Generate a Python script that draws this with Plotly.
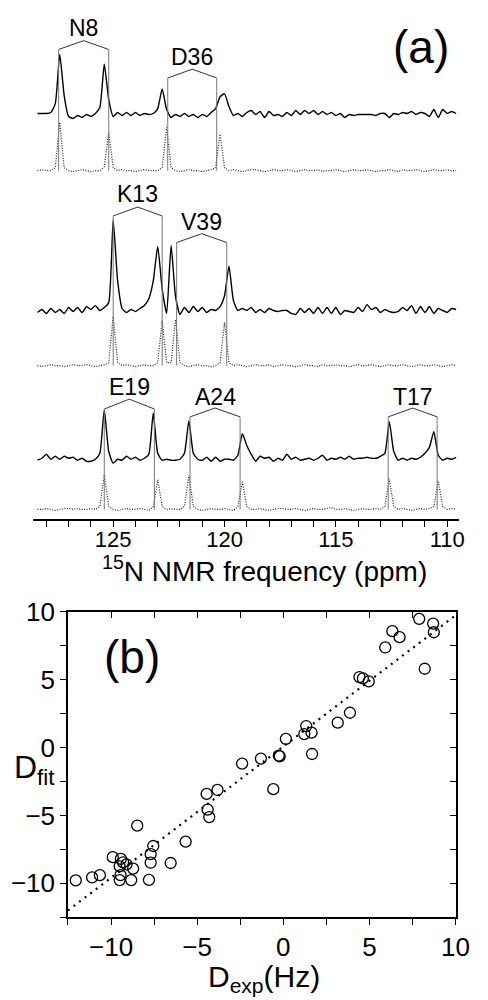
import numpy as np
import plotly.graph_objects as go

# 15N chemical shift grid (ppm) shared by all spectra, 0.2 ppm steps
ppm = np.round(np.arange(128.4, 109.5, -0.2), 1)

# experimental (solid) and simulated (dotted) spectra, intensity in arbitrary units
exp_1 = [0, 0, 0, 1, 10, 60, 18, -3, -5, -2,
         -4, -1, -3, 0, 6, 50, 14, -3, 1, -2,
         1, -2, 1, -2, 0, -1, 0, 5, 25, 4,
         -4, -1, -3, 0, -3, -1, -4, -1, -3, 1,
         5, 17, 20, 7, -2, 0, -3, 1, 3, -1,
         2, -4, 2, -2, -1, -3, 1, -2, 3, -1,
         3, 0, 3, -1, 2, -1, 1, -2, 0, -4,
         -1, -2, -1, -1, -1, -1, -2, 0, 0, -4,
         0, -1, 1, 0, 2, -1, 1, 0, -3, 4,
         -4, 4, 0, 2, 0]
sim_1 = [0, 1, 0, 0, 3, 49, 3, 0, -1, 0,
         1, 0, -1, 0, 0, 4, 39, 3, 0, 1,
         0, 0, -1, 0, 1, 0, 0, 0, 3, 44,
         3, 0, -1, 0, 1, 0, 0, -1, 0, 1,
         3, 37, 3, 0, 1, 0, -1, 0, 1, 1,
         0, -1, 0, 1, 0, 0, 1, 0, -1, 0,
         1, 0, 0, 1, -1, 0, 0, 1, 0, -1,
         0, 1, 0, 0, 1, 0, -1, 0, 0, 1,
         0, -1, 1, 0, 0, 1, 0, -1, 0, 1,
         0, 0, 1, 0, 0]
exp_2 = [-2, 1, -3, 2, -2, 1, -3, 3, -1, 3,
         -2, 4, 1, 5, 0, 3, 8, 92, 30, 2,
         -2, 1, -1, 2, 5, 12, 30, 65, 22, -3,
         66, 14, -4, 3, -2, 4, -1, 3, -2, 1,
         0, 4, 15, 45, 10, 0, 2, 0, 3, -2,
         1, -2, 2, 0, -1, 0, 0, -3, -4, 2,
         -2, 2, -3, 3, -3, 3, -3, 3, -4, 0,
         -1, -2, 3, -1, 6, 1, 3, -2, 1, -1,
         -2, -1, 3, 0, 5, -3, 4, -2, 4, -3,
         2, 0, -2, 2, 1]
sim_2 = [0, -1, 0, 1, 0, 0, -1, 0, 1, 0,
         0, 1, 0, -1, 0, 1, 3, 50, 3, 0,
         1, 0, -1, 0, 1, 0, 0, 3, 46, 3,
         3, 47, 3, 0, -1, 0, 1, 0, 0, -1,
         0, 3, 44, 3, 0, 1, 0, -1, 0, 1,
         0, 0, 1, -1, 0, 1, 0, 0, -1, 0,
         1, 0, 0, -1, 1, 0, 0, 1, 0, 0,
         -1, 0, 1, 0, 0, 1, 0, -1, 0, 1,
         0, 0, 1, 0, -1, 0, 1, 0, 0, 1,
         0, -1, 0, 1, 0]
exp_3 = [-1, 1, 5, 0, 3, 0, 3, 1, 2, -1,
         1, -2, -2, 0, 6, 50, 8, -4, 0, -1,
         3, 0, 2, -1, 1, 5, 47, 6, -1, 0,
         -1, -1, 0, 6, 39, 6, 0, -1, 2, -2,
         2, -2, 0, 0, -1, 4, 26, 14, 5, -2,
         3, 1, 2, -2, 1, -1, 5, 0, 2, -1,
         0, 1, -1, 1, 4, -1, 1, 0, 2, 0,
         3, 0, 1, 1, 2, 1, 1, 3, 6, 38,
         8, -1, 1, -1, 1, 0, 2, 6, 12, 28,
         4, -1, 1, 0, 2]
sim_3 = [0, 0, 1, 0, -1, 0, 1, 1, 0, 1,
         0, 0, 1, 0, 3, 35, 3, 0, -1, 0,
         1, 0, 0, 1, 0, -1, 3, 30, 3, 0,
         1, 0, 0, 3, 35, 3, 0, -1, 0, 1,
         0, 0, 1, 0, -1, 3, 28, 3, 0, 0,
         1, 0, -1, 0, 1, 1, 0, 0, 1, 0,
         -1, 0, 1, 0, 0, 1, 2, 0, 0, 1,
         0, -1, 0, 1, 0, 0, 1, 0, 3, 31,
         3, 0, 1, 0, -1, 0, 1, 0, 1, 3,
         29, 3, 0, 1, 0]

# residue doublets (ppm of the two components)
peak_labels = ["N8", "D36", "K13", "V39", "E19", "A24", "T17"]
peak_left = [127.45, 122.55, 125.0, 122.15, 125.4, 121.55, 112.65]
peak_right = [125.2, 120.35, 122.8, 119.9, 123.15, 119.3, 110.45]

# panel (b): experimental vs fitted dipolar couplings (Hz)
d_exp = [7.89, 8.70, 8.74, 6.33, 6.75, 5.92, 8.21, 4.42, 4.62, 4.96,
         3.87, 3.16, 1.33, 1.22, 1.64, 0.15, -0.21, -0.26, 1.67, -1.30,
         -2.39, -0.58, -3.82, -4.45, -4.39, -4.30, -8.48, -5.67, -7.55, -7.70,
         -7.70, -6.54, -9.90, -9.43, -9.30, -9.10, -9.50, -8.72, -9.45, -9.50,
         -8.83, -7.80, -10.65, -11.10, -12.05]
d_fit = [9.49, 9.14, 8.50, 8.58, 8.14, 7.38, 5.81, 5.20, 5.10, 4.88,
         2.57, 1.84, 1.59, 1.00, 1.10, 0.64, -0.64, -0.59, -0.47, -0.81,
         -1.18, -3.06, -3.12, -3.41, -4.57, -5.12, -5.75, -6.93, -7.25, -7.85,
         -8.48, -8.50, -8.07, -8.20, -8.45, -8.60, -8.75, -8.92, -9.40, -9.76,
         -9.76, -9.75, -9.40, -9.56, -9.78]
fit_x = [-12.5, 10]
fit_y = [-12.0, 9.75]

W, H = 488, 1000
FONT = "Liberation Sans, Arial, sans-serif"
AXIS_Y = 512  # pixel row of the panel (a) axis line


def px(x):
    return x / W


def py(y):
    return 1 - y / H


def v(y):
    # panel (a) y axis is in pixels above the axis line
    return AXIS_Y - y


fig = go.Figure()

exp_base = [100, 300, 451]
sim_base = [158, 356, 502]
for base_e, base_s, e, s in zip(exp_base, sim_base, [exp_1, exp_2, exp_3], [sim_1, sim_2, sim_3]):
    fig.add_trace(go.Scatter(x=ppm, y=v(base_e) + np.array(e), mode="lines",
                             line=dict(color="black", width=1.4, shape="spline", smoothing=0.5),
                             hoverinfo="skip"))
    fig.add_trace(go.Scatter(x=ppm, y=v(base_s) + np.array(s), mode="lines",
                             line=dict(color="#222", width=1.2, dash="1px,1.5px"),
                             hoverinfo="skip"))

# bracket geometry: label row, apex row, end row, spectrum pair
brackets = [(13, 26, 35, 0), (43, 55, 64, 0), (182, 195, 204, 1), (210, 222, 231, 1),
            (378, 390, 400, 2), (388, 399, 408, 2), (388, 399, 408, 2)]
shapes = []
annotations = []
for lab, xl, xr, (ly, ay, ey, pair) in zip(peak_labels, peak_left, peak_right, brackets):
    xm = (xl + xr) / 2
    for x0, y0, x1, y1, col in [(xl, ey, xm, ay, "#333"), (xm, ay, xr, ey, "#333"),
                                (xl, ey, xl, sim_base[pair], "#777"),
                                (xr, ey, xr, sim_base[pair], "#777")]:
        shapes.append(dict(type="line", xref="x", yref="y", x0=x0, y0=v(y0), x1=x1, y1=v(y1),
                           line=dict(color=col, width=1)))
    annotations.append(dict(text=lab, x=xm, y=v(ly), xref="x", yref="y", showarrow=False,
                            xanchor="center", yanchor="middle",
                            font=dict(family=FONT, size=23, color="black")))

# panel (b)
fig.add_trace(go.Scatter(x=fit_x, y=fit_y, mode="lines", xaxis="x2", yaxis="y2",
                         line=dict(color="black", width=2.2, dash="2px,5px"), hoverinfo="skip"))
fig.add_trace(go.Scatter(x=d_exp, y=d_fit, mode="markers", xaxis="x2", yaxis="y2",
                         marker=dict(symbol="circle-open", size=11, color="black",
                                     line=dict(width=1.3))))
# helpers so the mirrored top/right axes get inward ticks
fig.add_trace(go.Scatter(x=[None], y=[None], xaxis="x3", yaxis="y2", hoverinfo="skip"))
fig.add_trace(go.Scatter(x=[None], y=[None], xaxis="x2", yaxis="y3", hoverinfo="skip"))

annotations += [
    dict(text="(a)", x=px(433), y=py(32), font=dict(size=46)),
    dict(text="(b)", x=px(136), y=py(652), font=dict(size=46)),
    dict(text="<sup>15</sup>N NMR frequency (ppm)", x=px(272), y=py(562), font=dict(size=28)),
    dict(text="D<sub>fit</sub>", x=px(36), y=py(766), font=dict(size=32)),
    dict(text="D<sub>exp</sub>(Hz)", x=px(272), y=py(978), font=dict(size=30)),
]
for a in annotations[-5:]:
    a.update(xref="paper", yref="paper", showarrow=False, xanchor="center", yanchor="middle")
    a["font"].update(family=FONT, color="black")

b_ax = dict(range=[-12.5, 10], showline=True, linecolor="black", linewidth=1.5,
            showgrid=False, zeroline=False, dtick=5, tick0=0, ticklen=6, tickwidth=1.2,
            tickcolor="black", tickfont=dict(family=FONT, size=26, color="black"),
            minor=dict(dtick=2.5, ticklen=6, tickwidth=1.2, tickcolor="black"))

fig.update_layout(
    width=W, height=H, margin=dict(l=0, r=0, t=0, b=0),
    paper_bgcolor="white", plot_bgcolor="white", showlegend=False,
    xaxis=dict(domain=[px(34), px(473)], anchor="y", range=[128.6, 109.45],
               showline=True, linecolor="black", linewidth=1.5, showgrid=False, zeroline=False,
               ticks="outside", dtick=5, tick0=110, ticklen=6, tickwidth=1.2, tickcolor="black",
               ticklabelstandoff=-6,
               tickfont=dict(family=FONT, size=22, color="black"),
               minor=dict(dtick=1, ticks="outside", ticklen=6, tickwidth=1.2, tickcolor="black")),
    yaxis=dict(domain=[py(AXIS_Y), 1], range=[0, AXIS_Y], visible=False),
    xaxis2=dict(b_ax, domain=[px(70), px(469)], anchor="y2", ticks="outside",
                minor=dict(b_ax["minor"], ticks="outside")),
    yaxis2=dict(b_ax, domain=[py(916), py(606)], anchor="x2", ticks="outside",
                minor=dict(b_ax["minor"], ticks="outside")),
    xaxis3=dict(b_ax, overlaying="x2", side="top", anchor="y2", ticks="inside",
                showticklabels=False, minor=dict(b_ax["minor"], ticks="inside")),
    yaxis3=dict(b_ax, overlaying="y2", side="right", anchor="x2", ticks="inside",
                showticklabels=False, minor=dict(b_ax["minor"], ticks="inside")),
    shapes=shapes, annotations=annotations,
)

# drop the page's default body margin so the figure sits at the window corner
fig.write_html("out.html", config={"displayModeBar": False},
               post_script="document.body.style.margin='0';")
